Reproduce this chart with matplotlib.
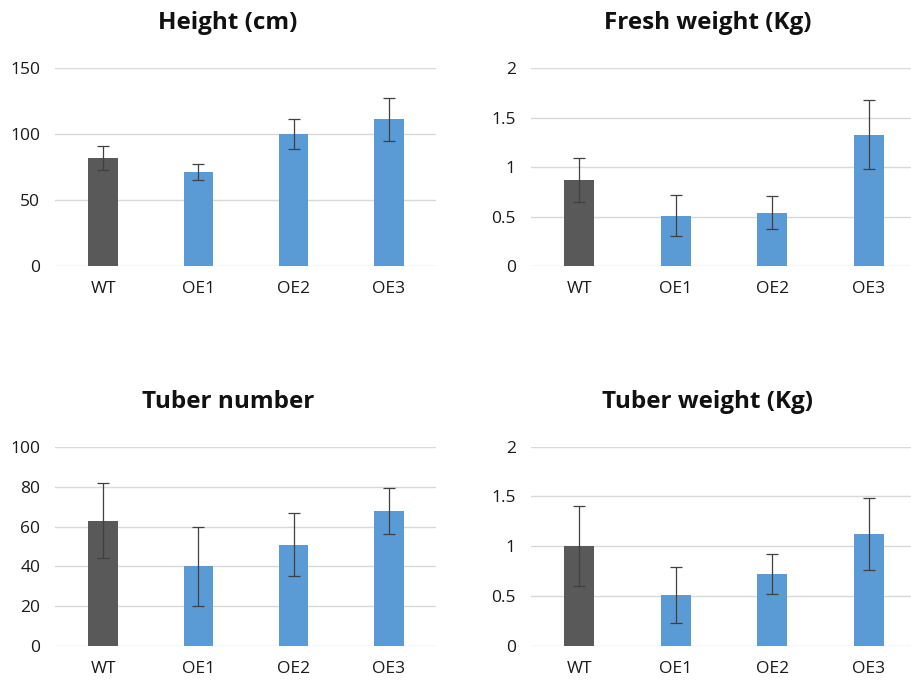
import numpy as np
import matplotlib
matplotlib.use('Agg')
import matplotlib.pyplot as plt

plt.rcParams['font.family'] = ['Open Sans', 'DejaVu Sans']

# ---------------------------------------------------------------
# Data
# ---------------------------------------------------------------
lines = ['WT', 'OE1', 'OE2', 'OE3']

height_mean = [82, 71, 100, 111]
height_err = [9, 6, 11, 16]

fresh_mean = [0.87, 0.51, 0.54, 1.33]
fresh_err = [0.22, 0.21, 0.17, 0.35]

tuber_n_mean = [63, 40, 51, 68]
tuber_n_err = [19, 20, 16, 11.5]

tuber_w_mean = [1.0, 0.51, 0.72, 1.12]
tuber_w_err = [0.40, 0.28, 0.20, 0.36]

titles = ['Height (cm)', 'Fresh weight (Kg)', 'Tuber number', 'Tuber weight (Kg)']
yticks_h = [0, 50, 100, 150]
yticks_kg = [0, 0.5, 1, 1.5, 2]
yticks_n = [0, 20, 40, 60, 80, 100]
ytick_labels_kg = ['0', '0.5', '1', '1.5', '2']

# ---------------------------------------------------------------
# Style
# ---------------------------------------------------------------
C_WT = '#595959'
C_OE = '#5b9bd5'
C_GRID = '#d9d9d9'
C_ERR = '#404040'

W, H = 912, 683
fig = plt.figure(figsize=(W / 100, H / 100), dpi=100, facecolor='white')


def px_axes(x0, x1, y_top, y_bot):
    return fig.add_axes([x0 / W, (H - y_bot) / H, (x1 - x0) / W, (y_bot - y_top) / H])


paneles = [
    # (x0, x1, y_top, y_bot, mean, err, yticks, ylabels, title_x, title_y)
    (55.5, 436.5, 68, 266, height_mean, height_err, yticks_h, None, 228, 23),
    (531, 917, 68.3, 266, fresh_mean, fresh_err, yticks_kg, ytick_labels_kg, 708, 23),
    (55.5, 436.5, 447.3, 645.7, tuber_n_mean, tuber_n_err, yticks_n, None, 228, 402),
    (531, 917, 446.7, 645.7, tuber_w_mean, tuber_w_err, yticks_kg, ytick_labels_kg, 708, 402),
]

x = np.arange(len(lines))
colores = [C_WT] + [C_OE] * (len(lines) - 1)

for i, (x0, x1, yt, yb, mean, err, ticks, tlabels, tx, ty) in enumerate(paneles):
    ax = px_axes(x0, x1, yt, yb)
    ax.bar(x, mean, width=0.31, color=colores, zorder=2)
    ax.errorbar(x, mean, yerr=err, fmt='none', ecolor=C_ERR,
                elinewidth=0.9, capsize=4, capthick=0.9, zorder=3)
    ax.set_xlim(-0.5, len(lines) - 0.5)
    ax.set_ylim(ticks[0], ticks[-1])
    ax.set_yticks(ticks)
    if tlabels is not None:
        ax.set_yticklabels(tlabels)
    ax.set_xticks(x)
    ax.set_xticklabels(lines)
    ax.grid(axis='y', color=C_GRID, linewidth=1.0, zorder=0)
    ax.set_axisbelow(True)
    for s in ax.spines.values():
        s.set_visible(False)
    ax.tick_params(axis='both', length=0, labelsize=12.5, colors='#1a1a1a')
    ax.tick_params(axis='y', pad=11)
    ax.tick_params(axis='x', pad=11)

    fig.text(tx / W, 1 - ty / H, titles[i], ha='center', va='center',
             fontsize=17.5, fontweight='bold', color='#111111')

plt.savefig('out.png', dpi=100, facecolor='white')
